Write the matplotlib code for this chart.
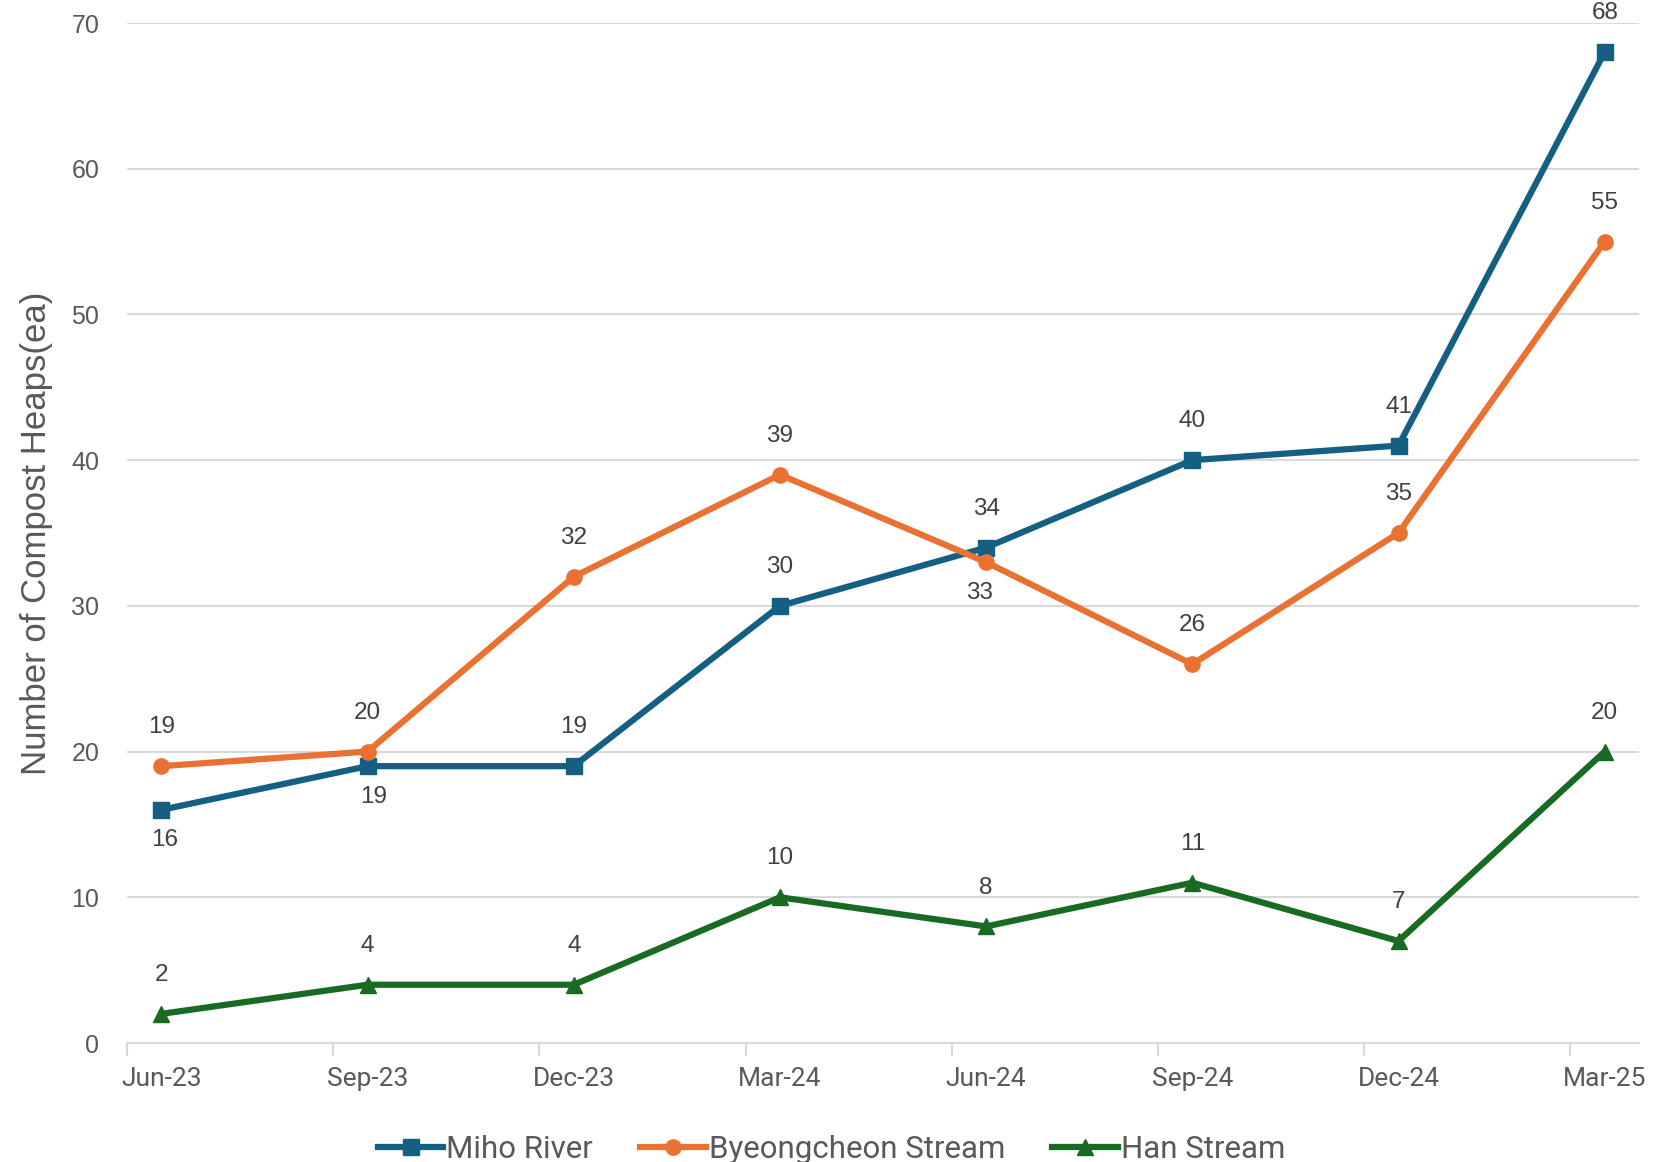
import numpy as np
import pandas as pd
import matplotlib
matplotlib.use("Agg")
import matplotlib.pyplot as plt
from matplotlib.ticker import FixedLocator, NullFormatter, FixedFormatter

# ── data ──────────────────────────────────────────────────────────
dates = ["Jun-23", "Sep-23", "Dec-23", "Mar-24", "Jun-24", "Sep-24", "Dec-24", "Mar-25"]
miho = [16, 19, 19, 30, 34, 40, 41, 68]
byeongcheon = [19, 20, 32, 39, 33, 26, 35, 55]
han = [2, 4, 4, 10, 8, 11, 7, 20]

# label placement per point: +1 above, -1 below
miho_pos = [-1, -1, 1, 1, 1, 1, 1, 1]
byeongcheon_pos = [1, 1, 1, 1, -1, 1, 1, 1]
han_pos = [1, 1, 1, 1, 1, 1, 1, 1]
# small sideways nudges (points) for the labels that sit off-centre
miho_dx = [2, 4, 0, 0, 0, 0, 0, 0]
byeongcheon_dx = [0, 0, 0, 0, -5, 0, 0, 0]
han_dx = [0, 0, 0, 0, 0, 0, 0, 0]

BLUE, ORANGE, GREEN = "#156082", "#E97132", "#196B24"
GREY_TXT = "#595959"
GRID = "#D9D9D9"

# month slots like an Excel date axis: points sit mid-month
months = pd.PeriodIndex(pd.to_datetime(dates, format="%b-%y"), freq="M")
x = np.array([(m - months[0]).n for m in months]) + 0.5
n_slots = int(x[-1] + 0.5)

fig = plt.figure(figsize=(16.63, 11.62), dpi=100)
ax = fig.add_axes([0.0764, 0.1024, 0.9092, 0.8778])

series = [
    ("Miho River", miho, miho_pos, miho_dx, BLUE, "s", 11),
    ("Byeongcheon Stream", byeongcheon, byeongcheon_pos, byeongcheon_dx, ORANGE, "o", 11),
    ("Han Stream", han, han_pos, han_dx, GREEN, "^", 12),
]

handles = []
for name, vals, pos, dxs, col, mk, ms in series:
    h, = ax.plot(x, vals, color=col, lw=4.5, marker=mk, ms=ms,
                 markeredgecolor=col, label=name, zorder=3, clip_on=False)
    handles.append(h)
    for xi, v, p, dx in zip(x, vals, pos, dxs):
        dy = 28 if p > 0 else -22
        ax.annotate(str(v), (xi, v), textcoords="offset points", xytext=(dx, dy),
                    ha="center", va="center", fontsize=17.5, color="#404040",
                    family="Liberation Sans", annotation_clip=False)

ax.set_xlim(0, n_slots)
ax.set_ylim(0, 70)
ax.set_yticks(range(0, 71, 10))
ax.grid(axis="y", color=GRID, lw=1.5, zorder=0)
ax.set_axisbelow(True)

# tick marks at month starts, labels centred under points
ax.xaxis.set_major_locator(FixedLocator(x - 0.5))
ax.xaxis.set_major_formatter(NullFormatter())
ax.xaxis.set_minor_locator(FixedLocator(x))
ax.xaxis.set_minor_formatter(FixedFormatter(dates))
ax.tick_params(axis="x", which="major", length=9, width=1.5, color=GRID)
ax.tick_params(axis="x", which="minor", length=0, pad=17, labelsize=19,
               labelcolor=GREY_TXT)
for t in ax.xaxis.get_minorticklabels():
    t.set_family("Roboto")
ax.tick_params(axis="y", length=0, pad=20, labelsize=18, labelcolor=GREY_TXT)
for t in ax.get_yticklabels():
    t.set_family("Liberation Sans")

for s in ["top", "right", "left"]:
    ax.spines[s].set_visible(False)
ax.spines["bottom"].set_color(GRID)
ax.spines["bottom"].set_linewidth(1.5)

fig.text(0.022, 0.541, "Number of Compost Heaps(ea)", rotation=90,
         ha="center", va="center", fontsize=25, color=GREY_TXT,
         family="Liberation Sans")

fig.legend(handles=handles, loc="center", bbox_to_anchor=(0.5, 0.011),
           ncol=3, frameon=False, prop={"family": "Roboto", "size": 22.5},
           labelcolor=GREY_TXT, handlelength=2.1, handletextpad=0.1,
           columnspacing=1.5)

fig.savefig("out.png", dpi=100)
